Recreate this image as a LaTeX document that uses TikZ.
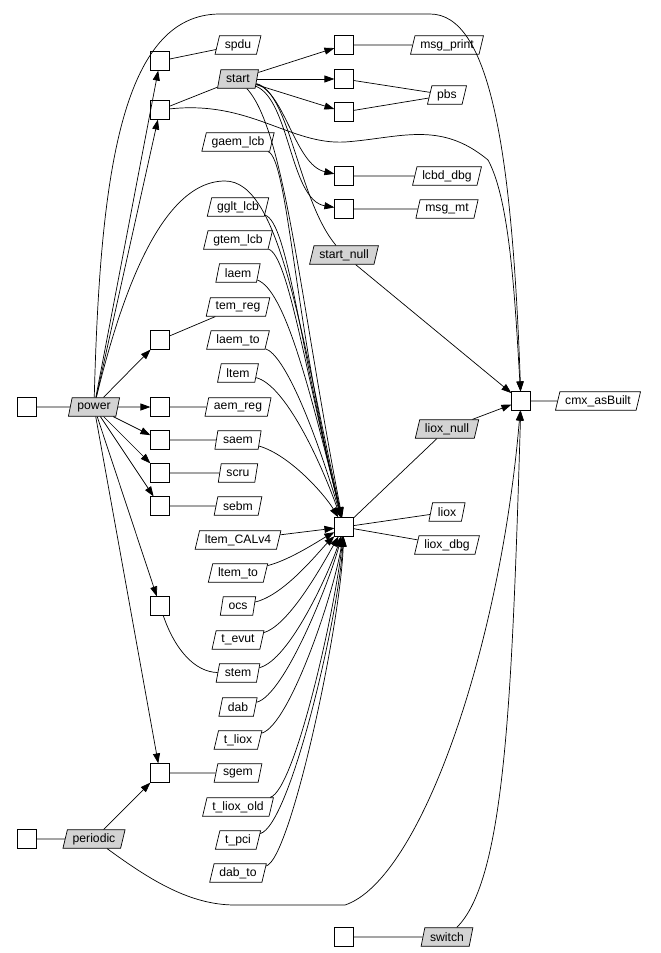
\documentclass[tikz,border=0pt]{standalone}
\usepackage{fontspec}
\setmainfont{Liberation Sans}
\usetikzlibrary{arrows.meta}
\usetikzlibrary{shapes.geometric}
\definecolor{evgray}{RGB}{211,211,211}

\begin{document}
\begin{tikzpicture}[x=0.03cm,y=-0.03cm,line width=0.6pt,
  >={Triangle[length=8.5pt,width=6pt]},
  box/.style={draw,fill=white,minimum size=0.555cm,inner sep=0pt},
  evt/.style={draw,fill=white,trapezium,trapezium left angle=72,trapezium right angle=108,
    trapezium stretches=true,minimum height=0.555cm,inner xsep=4.5pt,inner ysep=1pt,
    font=\fontsize{10.4}{12}\selectfont},
  sig/.style={evt,fill=evgray}]

\useasboundingbox (0,0) rectangle (660,953);

% actions
\node[box] (in_power) at (27,407) {};
\node[box] (in_periodic) at (27,839) {};
\node[box] (in_switch) at (344,937) {};
\node[box] (a_spdu) at (160,61) {};
\node[box] (a_start) at (160,110) {};
\node[box] (a_temreg) at (160,340) {};
\node[box] (a_aemreg) at (160,407) {};
\node[box] (a_saem) at (160,440) {};
\node[box] (a_scru) at (160,473) {};
\node[box] (a_sebm) at (160,506) {};
\node[box] (a_stem) at (160,606) {};
\node[box] (a_sgem) at (160,773) {};
\node[box] (a_msgprint) at (344,45) {};
\node[box] (a_pbs1) at (344,79) {};
\node[box] (a_pbs2) at (344,112) {};
\node[box] (a_lcbd) at (344,176) {};
\node[box] (a_msgmt) at (344,209) {};
\node[box] (hub) at (344,527) {};
\node[box] (cmx) at (521,401) {};

% events
\node[sig] (power) at (94,407) {power};
\node[sig] (periodic) at (94,839) {periodic};
\node[sig] (switch) at (447,937) {switch};
\node[evt] (spdu) at (238,45) {spdu};
\node[sig] (start) at (238,79) {start};
\node[evt] (gaem_lcb) at (238,142) {gaem\_lcb};
\node[evt] (gglt_lcb) at (238,207) {gglt\_lcb};
\node[evt] (gtem_lcb) at (238,240) {gtem\_lcb};
\node[evt] (laem) at (238,273) {laem};
\node[evt] (tem_reg) at (238,307) {tem\_reg};
\node[evt] (laem_to) at (238,340) {laem\_to};
\node[evt] (ltem) at (238,373) {ltem};
\node[evt] (aem_reg) at (238,407) {aem\_reg};
\node[evt] (saem) at (238,440) {saem};
\node[evt] (scru) at (238,473) {scru};
\node[evt] (sebm) at (238,506) {sebm};
\node[evt] (ltem_CALv4) at (238,540) {ltem\_CALv4};
\node[evt] (ltem_to) at (238,573) {ltem\_to};
\node[evt] (ocs) at (238,606) {ocs};
\node[evt] (t_evut) at (238,640) {t\_evut};
\node[evt] (stem) at (238,673) {stem};
\node[evt] (dab) at (238,707) {dab};
\node[evt] (t_liox) at (238,740) {t\_liox};
\node[evt] (sgem) at (238,773) {sgem};
\node[evt] (t_liox_old) at (238,807) {t\_liox\_old};
\node[evt] (t_pci) at (238,840) {t\_pci};
\node[evt] (dab_to) at (238,873) {dab\_to};
\node[evt] (msg_print) at (447,45) {msg\_print};
\node[evt] (pbs) at (447,95) {pbs};
\node[evt] (lcbd_dbg) at (447,176) {lcbd\_dbg};
\node[evt] (msg_mt) at (447,209) {msg\_mt};
\node[sig] (start_null) at (344,255) {start\_null};
\node[sig] (liox_null) at (447,429) {liox\_null};
\node[evt] (liox) at (447,512) {liox};
\node[evt] (liox_dbg) at (447,545) {liox\_dbg};
\node[evt] (cmx_asBuilt) at (598,401) {cmx\_asBuilt};

% plain links
\draw (in_power) -- (power);
\draw (in_periodic) -- (periodic);
\draw (in_switch) -- (switch);
\draw (a_spdu) -- (spdu);
\draw (a_start) -- (start);
\draw (a_temreg) -- (tem_reg);
\draw (a_aemreg) -- (aem_reg);
\draw (a_saem) -- (saem);
\draw (a_scru) -- (scru);
\draw (a_sebm) -- (sebm);
\draw (a_sgem) -- (sgem);
\draw (a_stem) .. controls (175,650) and (195,672) .. (stem);
\draw (a_msgprint) -- (msg_print);
\draw (a_pbs1) -- (pbs);
\draw (a_pbs2) -- (pbs);
\draw (a_lcbd) -- (lcbd_dbg);
\draw (a_msgmt) -- (msg_mt);
\draw (hub) -- (liox_null);
\draw (hub) -- (liox);
\draw (hub) -- (liox_dbg);
\draw (cmx) -- (cmx_asBuilt);
\draw (start) .. controls (290,92) and (298,200) .. (start_null);

% power
\draw[->] (power) -- (a_spdu);
\draw[->] (power) -- (a_start);
\draw[->] (power) -- (a_temreg);
\draw[->] (power) -- (a_aemreg);
\draw[->] (power) -- (a_saem);
\draw[->] (power) -- (a_scru);
\draw[->] (power) -- (a_sebm);
\draw[->] (power) -- (a_stem);
\draw[->] (power) -- (a_sgem);
\draw[->] (power) .. controls (120,300) and (160,181) .. (225,181)
  .. controls (280,181) and (300,330) .. (hub);
\draw[->] (power) .. controls (100,180) and (120,14) .. (220,14) -- (430,14)
  .. controls (490,14) and (512,150) .. (cmx);
\draw[->] (periodic) -- (a_sgem);
\draw[->] (periodic) .. controls (150,880) and (190,905) .. (235,905) -- (345,905)
  .. controls (420,880) and (500,650) .. (cmx);
\draw[->] (switch) .. controls (505,880) and (512,700) .. (cmx);

% start
\draw[->] (start) -- (a_msgprint);
\draw[->] (start) -- (a_pbs1);
\draw[->] (start) -- (a_pbs2);
\draw[->] (start) .. controls (285,92) and (295,165) .. (a_lcbd);
\draw[->] (start) .. controls (290,100) and (290,200) .. (a_msgmt);
\draw[->] (start) .. controls (285,130) and (300,300) .. (hub);
\draw[->] (a_start) .. controls (250,100) and (290,145) .. (345,142)
  .. controls (400,138) and (440,120) .. (488,160) .. controls (510,200) and (515,300) .. (cmx);
\draw[->] (start_null) -- (cmx);
\draw[->] (liox_null) -- (cmx);

% into hub
\draw[->] (gaem_lcb) .. controls (288,158) and (295,330) .. (hub);
\draw[->] (gglt_lcb) .. controls (288,222) and (300,350) .. (hub);
\draw[->] (gtem_lcb) .. controls (288,255) and (305,370) .. (hub);
\draw[->] (laem) .. controls (285,290) and (310,390) .. (hub);
\draw[->] (laem_to) .. controls (285,355) and (315,430) .. (hub);
\draw[->] (ltem) .. controls (285,385) and (320,460) .. (hub);
\draw[->] (saem) .. controls (290,455) and (325,495) .. (hub);
\draw[->] (ltem_CALv4) -- (hub);
\draw[->] (ltem_to) .. controls (290,560) and (320,540) .. (hub);
\draw[->] (ocs) .. controls (285,595) and (320,550) .. (hub);
\draw[->] (t_evut) .. controls (290,625) and (325,560) .. (hub);
\draw[->] (stem) .. controls (290,660) and (330,570) .. (hub);
\draw[->] (dab) .. controls (285,695) and (330,580) .. (hub);
\draw[->] (t_liox) .. controls (290,725) and (335,590) .. (hub);
\draw[->] (t_liox_old) .. controls (295,790) and (335,610) .. (hub);
\draw[->] (t_pci) .. controls (290,825) and (338,620) .. (hub);
\draw[->] (dab_to) .. controls (290,860) and (340,630) .. (hub);

\end{tikzpicture}
\end{document}
